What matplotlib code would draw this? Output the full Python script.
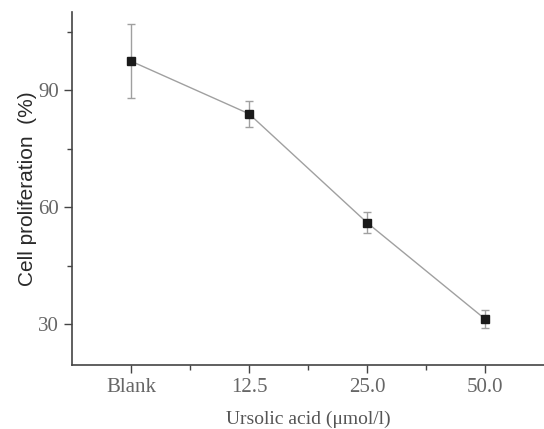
import matplotlib
matplotlib.use("Agg")
import matplotlib.pyplot as plt
from matplotlib.ticker import MultipleLocator

""" data """
categories = ["Blank", "12.5", "25.0", "50.0"]
proliferation = [97.4, 83.9, 56.0, 31.3]  # %
errors = [9.5, 3.4, 2.6, 2.4]

""" plot """
fig = plt.figure(figsize=(5.44, 4.29), dpi=100)
ax = fig.add_axes([72 / 544, 1 - 365 / 429, (544 - 72) / 544, (365 - 12) / 429])

xpos = list(range(len(categories)))
ax.errorbar(xpos, proliferation, yerr=errors, color="#a0a0a0", linewidth=1.0,
            elinewidth=1.0, capsize=3, capthick=1.0, marker="s", markersize=6,
            markerfacecolor="#1a1a1a", markeredgecolor="#1a1a1a", zorder=3)

## axes settings
ax.set_xlim(-0.5, 3.5)
ax.set_ylim(19.5, 110)
ax.set_xticks(xpos)
ax.set_xticklabels(categories)
ax.set_xticks([0.5, 1.5, 2.5], minor=True)
ax.yaxis.set_minor_locator(MultipleLocator(15))
ax.set_yticks([30, 60, 90])

for s in ["top", "right"]:
    ax.spines[s].set_visible(False)
for s in ["left", "bottom"]:
    ax.spines[s].set_color("#444444")
    ax.spines[s].set_linewidth(1.2)

ax.tick_params(axis="both", which="major", length=6, width=1, color="#444444",
               labelsize=15, labelcolor="#666666")
ax.tick_params(axis="both", which="minor", length=3.5, width=1, color="#444444")
for lab in ax.get_xticklabels() + ax.get_yticklabels():
    lab.set_fontfamily("Liberation Serif")

ax.set_xlabel("Ursolic acid (\u03bcmol/l)", fontsize=14, color="#555555",
              family="Liberation Serif", labelpad=10)
ax.set_ylabel("Cell proliferation  (%)", fontsize=15, color="#2a2a2a",
              family="Liberation Sans", labelpad=1)

plt.savefig("out.png", dpi=100)
